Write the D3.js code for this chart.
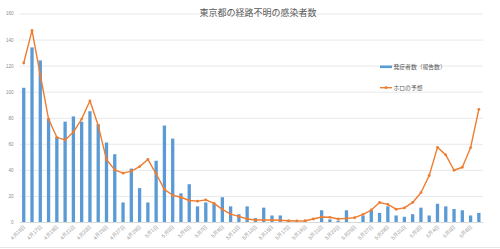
<!DOCTYPE html>
<html>
<head>
<meta charset="utf-8">
<script src="https://cdn.jsdelivr.net/npm/d3@7"></script>
<style>
  body { margin: 0; background: #fff; }
  svg { display: block; font-family: "Noto Sans CJK JP", "Noto Sans", sans-serif; }
</style>
</head>
<body>
<div id="chart"></div>
<script>
// Chart size
var svgWidth = 500;
var svgHeight = 249;

// Dates (categories)
var dates = [
  "4月15日","4月16日","4月17日","4月18日","4月19日","4月20日","4月21日","4月22日",
  "4月23日","4月24日","4月25日","4月26日","4月27日","4月28日","4月29日","4月30日",
  "5月1日","5月2日","5月3日","5月4日","5月5日","5月6日","5月7日","5月8日",
  "5月9日","5月10日","5月11日","5月12日","5月13日","5月14日","5月15日","5月16日",
  "5月17日","5月18日","5月19日","5月20日","5月21日","5月22日","5月23日","5月24日",
  "5月25日","5月26日","5月27日","5月28日","5月29日","5月30日","5月31日","6月1日",
  "6月2日","6月3日","6月4日","6月5日","6月6日","6月7日","6月8日","6月9日"
];

// 発症者数（報告数）
var onsetCounts = [
  103, 134, 124, 79, 65, 77, 81, 77,
  85, 75, 61, 52, 15, 41, 26, 15,
  47, 74, 64, 22, 29, 12, 15, 14,
  19, 12, 6, 12, 3, 11, 5, 5,
  1, 0, 1, 0, 9, 2, 1, 9,
  0, 5, 9, 7, 12, 5, 4, 6,
  11, 5, 14, 12, 10, 9, 5, 7
];

// ホロの予想
var holoEstimate = [
  122, 147, 113, 79, 65, 63, 69, 79,
  93, 74, 48, 40, 37.5, 39, 42.5, 48,
  37, 25, 20.5, 19, 16.5, 16, 17, 14.3,
  9.7, 6, 4.3, 2.3, 1.5, 1.5, 1.5, 1.3,
  1, 0.8, 1, 2.3, 3.8, 3.6, 2.3, 2.8,
  3.3, 5.9, 9.2, 15, 13.5, 9.8, 10.8, 15,
  22.5, 35.7, 57.3, 51.5, 39.7, 42, 57, 86.5
];

var yTicks = [0, 20, 40, 60, 80, 100, 120, 140, 160];
var title = "東京都の経路不明の感染者数";
var seriesNames = ["発症者数（報告数）", "ホロの予想"];

var barColor = "#5b9bd5";
var lineColor = "#ed7d31";

// Plot area
var plot = { left: 19.6, right: 483, top: 13.5, bottom: 222 };

var svg = d3.select("#chart")
  .append("svg")
  .attr("width", svgWidth)
  .attr("height", svgHeight);

var xScale = d3.scaleBand()
  .domain(dates)
  .range([plot.left, plot.right])
  .paddingInner(0.6)
  .paddingOuter(0.3);

var yScale = d3.scaleLinear()
  .domain([0, 160])
  .range([plot.bottom, plot.top]);

// Gridlines + y labels
var leftAxis = d3.axisLeft(yScale)
  .tickValues(yTicks)
  .tickSize(-(plot.right - plot.left))
  .tickPadding(6);

var yAxisG = svg.append("g")
  .attr("transform", `translate(${plot.left}, 0)`)
  .call(leftAxis);

yAxisG.select(".domain").remove();
yAxisG.selectAll(".tick line")
  .attr("stroke", "#e3e3e3")
  .attr("stroke-width", 0.8);
yAxisG.selectAll(".tick text")
  .attr("fill", "#8c8c8c")
  .style("font-size", "4.6px");

// Bars
svg.append("g")
  .selectAll("rect")
  .data(dates)
  .enter()
  .append("rect")
  .attr("x", d => xScale(d))
  .attr("y", (d, i) => yScale(onsetCounts[i]))
  .attr("width", xScale.bandwidth())
  .attr("height", (d, i) => yScale(0) - yScale(onsetCounts[i]))
  .attr("fill", barColor);

// Line
var xCenter = d => xScale(d) + xScale.bandwidth() / 2;

var line = d3.line()
  .x((d, i) => xCenter(dates[i]))
  .y(d => yScale(d));

svg.append("path")
  .datum(holoEstimate)
  .attr("fill", "none")
  .attr("stroke", lineColor)
  .attr("stroke-width", 1.4)
  .attr("stroke-linejoin", "round")
  .attr("d", line);

svg.append("g")
  .selectAll("circle")
  .data(holoEstimate)
  .enter()
  .append("circle")
  .attr("cx", (d, i) => xCenter(dates[i]))
  .attr("cy", d => yScale(d))
  .attr("r", 1.4)
  .attr("fill", lineColor);

// X axis labels (every other date, rotated)
var bottomAxis = d3.axisBottom(xScale)
  .tickValues(dates.filter((d, i) => i % 2 === 0))
  .tickSize(0)
  .tickPadding(0);

var xAxisG = svg.append("g")
  .attr("transform", `translate(0, ${plot.bottom})`)
  .call(bottomAxis);

xAxisG.select(".domain")
  .attr("stroke", "#d9d9d9");
xAxisG.selectAll(".tick text")
  .attr("fill", "#999999")
  .style("font-size", "5.2px")
  .style("text-anchor", "end")
  .attr("dy", 0)
  .attr("transform", "translate(2, 5) rotate(-45)");

// Bottom border line
svg.append("line")
  .attr("x1", 0)
  .attr("x2", svgWidth)
  .attr("y1", 247.5)
  .attr("y2", 247.5)
  .attr("stroke", "#e6e6e6")
  .attr("stroke-width", 1);

// Title
svg.append("text")
  .attr("x", 258)
  .attr("y", 15.5)
  .attr("text-anchor", "middle")
  .attr("fill", "#595959")
  .style("font-size", "9px")
  .text(title);

// Legend
var legend = svg.append("g");

legend.append("rect")
  .attr("x", 380)
  .attr("y", 65.5)
  .attr("width", 12)
  .attr("height", 2.6)
  .attr("fill", barColor);

legend.append("text")
  .attr("x", 393.5)
  .attr("y", 68.8)
  .attr("fill", "#595959")
  .style("font-size", "5.8px")
  .text(seriesNames[0]);

legend.append("line")
  .attr("x1", 380)
  .attr("x2", 392)
  .attr("y1", 87.7)
  .attr("y2", 87.7)
  .attr("stroke", lineColor)
  .attr("stroke-width", 1.4);

legend.append("circle")
  .attr("cx", 386)
  .attr("cy", 87.7)
  .attr("r", 1.4)
  .attr("fill", lineColor);

legend.append("text")
  .attr("x", 393.5)
  .attr("y", 89.8)
  .attr("fill", "#595959")
  .style("font-size", "5.8px")
  .text(seriesNames[1]);
</script>
</body>
</html>
